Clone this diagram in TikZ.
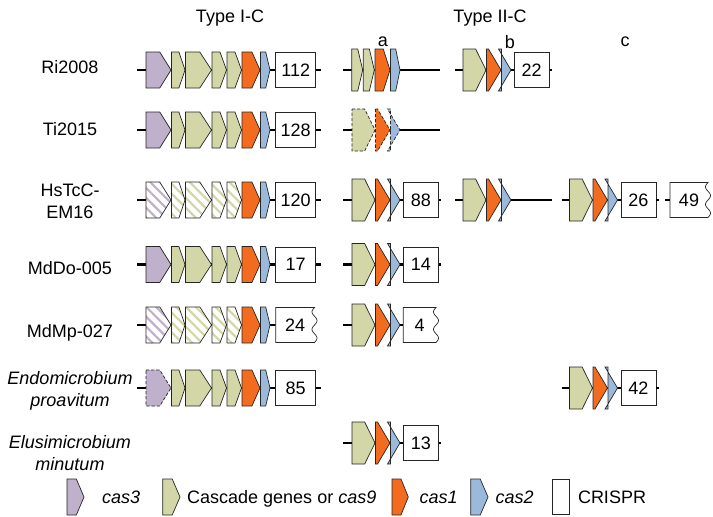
\documentclass[tikz,border=0pt]{standalone}
\usepackage{fontspec}
\setmainfont{Liberation Sans}
\usetikzlibrary{patterns.meta}

\definecolor{cthree}{HTML}{BFB0CB}
\definecolor{cascade}{HTML}{D3D6A7}
\definecolor{cone}{HTML}{F26B1F}
\definecolor{ctwo}{HTML}{9BBADB}

\tikzset{
  gene/.style={draw=black!85, line width=0.7pt, line join=miter, miter limit=2.5},
  c3/.style={gene, fill=cthree},
  casc/.style={gene, fill=cascade},
  c1/.style={gene, fill=cone},
  c2/.style={gene, fill=ctwo},
  c3hatch/.style={gene, preaction={fill=white}, pattern={Lines[angle=-45,distance=7pt,line width=2.2pt]}, pattern color=cthree},
  caschatch/.style={gene, preaction={fill=white}, pattern={Lines[angle=-45,distance=7pt,line width=2.2pt]}, pattern color=cascade},
  partial/.style={dash pattern=on 3.3pt off 1.8pt},
  dna/.style={line width=2.6pt},
  lab/.style={font=\fontsize{18}{22}\selectfont, align=center, inner sep=0pt},
  crispr/.style={lab, draw=black!85, line width=0.7pt, fill=white, minimum height=35pt},
}

% gene arrow: y, x left, x right, half height, style
\newcommand{\gene}[5]{%
  \pgfmathsetmacro{\tipw}{min(12.5,0.45*(#3-#2))}%
  \draw[#5] (#2,#1-#4) -- (#3-\tipw,#1-#4) -- (#3,#1) -- (#3-\tipw,#1+#4) -- (#2,#1+#4) -- cycle;}

% type I-C operon: y, cas3 style, cascade style
\newcommand{\typeic}[3]{%
  \gene{#1}{146}{171}{18}{#2}
  \gene{#1}{171.5}{185}{18}{#3}
  \gene{#1}{185.5}{211.5}{18}{#3}
  \gene{#1}{212}{226.5}{18}{#3}
  \gene{#1}{227}{241.5}{18}{#3}
  \gene{#1}{242}{260}{18}{c1}
  \gene{#1}{260.5}{270}{18}{c2}}

% type II-C operon: y, x start, extra style
\newcommand{\typeiic}[3]{%
  \gene{#1}{#2}{#2+23}{21}{casc,#3}
  \gene{#1}{#2+23.5}{#2+38}{21}{c1,#3}
  \gene{#1}{#2+38.5}{#2+48}{21}{c2,#3}}

% CRISPR array cut on the right: y, x left, x right, name, text
\newcommand{\cutbox}[5]{%
  \draw[gene, fill=white] (#3,#1-17.5) -- (#2,#1-17.5) -- (#2,#1+17.5) -- (#3,#1+17.5)
    -- plot[smooth, variable=\t, domain=0:1, samples=41] ({#3+2.5*sin(720*\t)},{#1+17.5-35*\t}) -- cycle;
  \node[lab] (#4) at ({(#2+#3)/2},#1) {#5};}

\begin{document}
\begin{tikzpicture}[x=1pt,y=-1pt]
\useasboundingbox (0,0) rectangle (713,517);

% headings
\node[lab] (typeone) at (230,18) {Type I-C};
\node[lab] (typetwo) at (490,18) {Type II-C};
\node[lab] (cola) at (383,42) {a};
\node[lab] (colb) at (510,42) {b};
\node[lab] (colc) at (625,42) {c};

% strain names
\node[lab] (ri) at (70,67) {Ri2008};
\node[lab] (ti) at (70,129) {Ti2015};
\node[lab] (hs) at (70,201) {HsTcC-\\EM16};
\node[lab] (mddo) at (70,268) {MdDo-005};
\node[lab] (mdmp) at (70,333) {MdMp-027};
\node[lab, font=\fontsize{18}{22}\selectfont\itshape] (endo) at (70,391) {Endomicrobium\\proavitum};
\node[lab, font=\fontsize{18}{22}\selectfont\itshape] (elus) at (70,453) {Elusimicrobium\\minutum};

% Ri2008
\coordinate (r1s) at (137,70);
\node[crispr, minimum width=40pt] (r1box) at (295.7,70) {112};
\draw[dna] (r1s) -- (r1box.west);
\draw[dna] (r1box.east) -- ++(5,0);
\typeic{70}{c3}{casc}
\coordinate (a1s) at (343,70);
\coordinate (a1e) at (440,70);
\draw[dna] (a1s) -- (a1e);
\gene{70}{351.7}{362.7}{21}{casc}
\gene{70}{363.3}{374.3}{21}{casc}
\gene{70}{375}{390}{21}{c1}
\gene{70}{390.5}{400}{21}{c2}
\coordinate (b1s) at (455,70);
\node[crispr, minimum width=35pt] (b1box) at (531.7,70) {22};
\draw[dna] (b1s) -- (b1box.west);
\draw[dna] (b1box.east) -- ++(2.5,0);
\typeiic{70}{463}{}

% Ti2015
\coordinate (r2s) at (137,130);
\node[crispr, minimum width=40pt] (r2box) at (295.7,130) {128};
\draw[dna] (r2s) -- (r2box.west);
\draw[dna] (r2box.east) -- ++(5,0);
\typeic{130}{c3}{casc}
\coordinate (a2s) at (343,130);
\coordinate (a2e) at (440,130);
\draw[dna] (a2s) -- (a2e);
\typeiic{130}{352}{partial}

% HsTcC-EM16
\coordinate (r3s) at (137,200);
\node[crispr, minimum width=40pt] (r3box) at (295.7,200) {120};
\draw[dna] (r3s) -- (r3box.west);
\draw[dna] (r3box.east) -- ++(5,0);
\typeic{200}{c3hatch}{caschatch}
\coordinate (a3s) at (343,200);
\node[crispr, minimum width=35pt] (a3box) at (420.8,200) {88};
\draw[dna] (a3s) -- (a3box.west);
\draw[dna] (a3box.east) -- ++(2,0);
\typeiic{200}{352}{}
\coordinate (b3s) at (455,200);
\coordinate (b3e) at (551.7,200);
\draw[dna] (b3s) -- (b3e);
\typeiic{200}{463}{}
\coordinate (c3s) at (561.7,200);
\node[crispr, minimum width=35pt] (c3box) at (638.4,200) {26};
\draw[dna] (c3s) -- (c3box.west);
\draw[dna] (c3box.east) -- ++(2.5,0);
\typeiic{200}{569.5}{}
\coordinate (c3t) at (665,200);
\coordinate (c3u) at (670,200);
\draw[dna] (c3t) -- (c3u);
\cutbox{200}{670}{708}{c3cut}{49}

% MdDo-005
\coordinate (r4s) at (137,264.5);
\node[crispr, minimum width=40pt] (r4box) at (295.7,264.5) {17};
\draw[dna] (r4s) -- (r4box.west);
\draw[dna] (r4box.east) -- ++(5,0);
\typeic{264.5}{c3}{casc}
\coordinate (a4s) at (343,264.5);
\node[crispr, minimum width=35pt] (a4box) at (420.8,264.5) {14};
\draw[dna] (a4s) -- (a4box.west);
\draw[dna] (a4box.east) -- ++(2,0);
\typeiic{264.5}{352}{}

% MdMp-027
\coordinate (r5s) at (137,325);
\coordinate (r5e) at (275.7,325);
\draw[dna] (r5s) -- (r5e);
\typeic{325}{c3hatch}{caschatch}
\cutbox{325}{275.7}{314.5}{r5cut}{24}
\coordinate (a5s) at (343,325);
\coordinate (a5e) at (403.3,325);
\draw[dna] (a5s) -- (a5e);
\typeiic{325}{352}{}
\cutbox{325}{403.3}{436}{a5cut}{4}

% Endomicrobium proavitum
\coordinate (r6s) at (137,388);
\node[crispr, minimum width=40pt] (r6box) at (295.7,388) {85};
\draw[dna] (r6s) -- (r6box.west);
\draw[dna] (r6box.east) -- ++(5,0);
\typeic{388}{c3,partial}{casc}
\coordinate (c6s) at (561.7,388);
\node[crispr, minimum width=35pt] (c6box) at (638.4,388) {42};
\draw[dna] (c6s) -- (c6box.west);
\draw[dna] (c6box.east) -- ++(2.5,0);
\typeiic{388}{569.5}{}

% Elusimicrobium minutum
\coordinate (a7s) at (343,443);
\node[crispr, minimum width=35pt] (a7box) at (420.8,443) {13};
\draw[dna] (a7s) -- (a7box.west);
\draw[dna] (a7box.east) -- ++(2,0);
\typeiic{443}{352}{}

% legend
\gene{497}{67}{84}{18}{c3}
\node[lab, anchor=base west] (legthree) at (102,503.3) {\itshape cas3};
\gene{497}{162.7}{180}{18}{casc}
\node[lab, anchor=base west] (legcasc) at (187,503.3) {Cascade genes or \textit{cas9}};
\gene{497}{392}{408.3}{18}{c1}
\node[lab, anchor=base west] (legone) at (419.5,503.3) {\itshape cas1};
\gene{497}{470.7}{488}{18}{c2}
\node[lab, anchor=base west] (legtwo) at (495.5,503.3) {\itshape cas2};
\node[crispr, minimum width=16.6pt, minimum height=35pt] (legbox) at (561,496.5) {};
\node[lab, anchor=base west] (legcrispr) at (577.8,503.3) {CRISPR};
\end{tikzpicture}
\end{document}
